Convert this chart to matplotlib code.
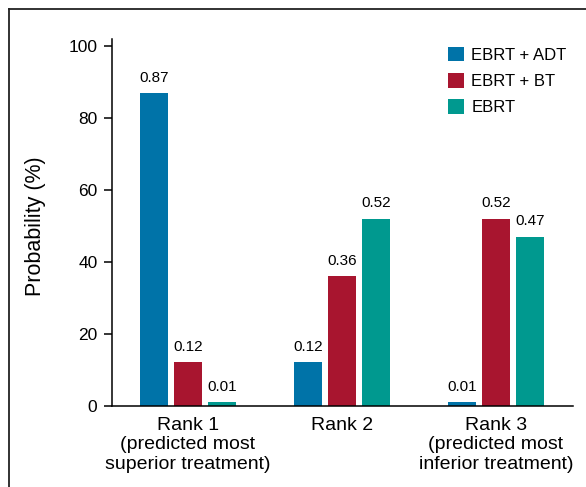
import matplotlib.pyplot as plt
import numpy as np
from matplotlib.lines import Line2D

plt.rcParams['font.family'] = ['Liberation Sans', 'DejaVu Sans']

ranks = ['Rank 1\n(predicted most\nsuperior treatment)', 'Rank 2',
         'Rank 3\n(predicted most\ninferior treatment)']
series = ['EBRT + ADT', 'EBRT + BT', 'EBRT']
colors = ['#0073A8', '#A8152F', '#00998F']
ebrt_adt = [87, 12, 1]
ebrt_bt = [12, 36, 52]
ebrt = [1, 52, 47]
value_labels = [['0.87', '0.12', '0.01'],
                ['0.12', '0.36', '0.52'],
                ['0.01', '0.52', '0.47']]

fig = plt.figure(figsize=(5.86, 4.87), dpi=100)
ax = fig.add_axes([112/586, 81.5/487, 461/586, 366.5/487])

x = np.arange(len(ranks))
width = 0.182
step = 0.221
values = [ebrt_adt, ebrt_bt, ebrt]
for i, (name, vals, col) in enumerate(zip(series, values, colors)):
    bars = ax.bar(x + (i - 1) * step, vals, width, color=col, label=name)
    for j, b in enumerate(bars):
        ax.annotate(value_labels[j][i], (b.get_x() + b.get_width() / 2, b.get_height()),
                    xytext=(0, 6), textcoords='offset points', ha='center', va='bottom',
                    fontsize=11)

ax.set_xlim(-0.4935, 2.5)
ax.set_ylim(0, 102)
ax.set_yticks([0, 20, 40, 60, 80, 100])
ax.set_xticks(x)
ax.set_xticklabels(ranks, fontsize=14, linespacing=1.22)
ax.tick_params(axis='x', length=0, pad=8)
ax.tick_params(axis='y', length=5.5, width=1.1, labelsize=12.5, pad=5)
ax.set_ylabel('Probability (%)', fontsize=15.5)
ax.yaxis.set_label_coords(-0.143, 0.49)

for s in ['top', 'right']:
    ax.spines[s].set_visible(False)
for s in ['left', 'bottom']:
    ax.spines[s].set_linewidth(1.1)

ax.legend(loc='upper left', bbox_to_anchor=(448/586, 1 - 47/487),
          bbox_transform=fig.transFigure, frameon=False, fontsize=12,
          handlelength=0.95, handleheight=0.95, handletextpad=0.45,
          labelspacing=0.62, borderpad=0, borderaxespad=0)

# outer frame of the figure panel
fig.add_artist(Line2D([9/586, 1], [1 - 9/487, 1 - 9/487], transform=fig.transFigure,
                      color='#222222', lw=1.3))
fig.add_artist(Line2D([9/586, 9/586], [0, 1 - 9/487], transform=fig.transFigure,
                      color='#222222', lw=1.3))

fig.savefig('out.png', dpi=100)
